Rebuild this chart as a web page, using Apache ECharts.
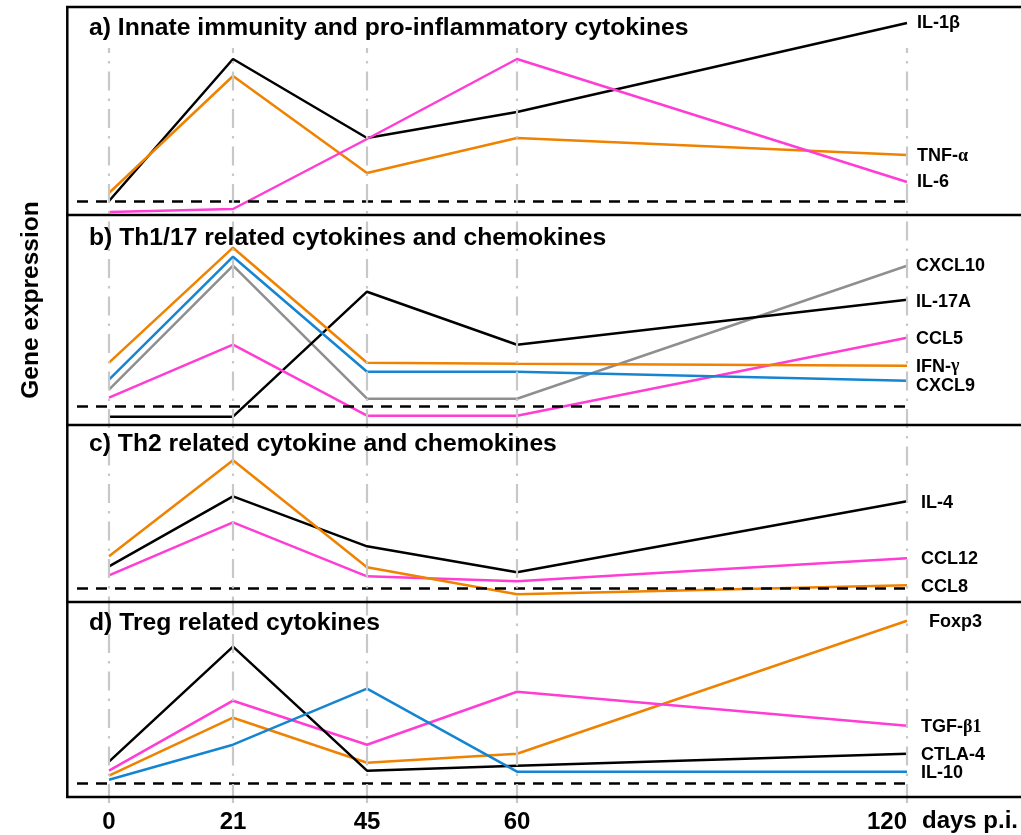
<!DOCTYPE html>
<html>
<head>
<meta charset="utf-8">
<script src="https://cdn.jsdelivr.net/npm/echarts@6/dist/echarts.min.js"></script>
<style>
html,body{margin:0;padding:0;background:#fff;}
#chart{width:1021px;height:835px;}
</style>
</head>
<body>
<div id="chart"></div>
<script>
// ---- data ----
const days = ['0', '21', '45', '60', '120'];
const panelTitles = [
  'a) Innate immunity and pro-inflammatory cytokines',
  'b) Th1/17 related cytokines and chemokines',
  'c) Th2 related cytokine and chemokines',
  'd) Treg related cytokines'
];
// panel a
const aIL1b = [0, 14.2, 6.3, 8.9, 17.8];
const aTNFa = [0.8, 12.5, 2.8, 6.3, 4.6];
const aIL6  = [-1.1, -0.8, 6.2, 14.2, 1.9];
// panel b
const bCXCL10 = [1.7, 14.1, 0.8, 0.8, 14.1];
const bIL17A  = [-1.0, -1.0, 11.5, 6.2, 10.7];
const bCCL5   = [0.9, 6.2, -0.9, -0.9, 6.9];
const bIFNg   = [4.4, 15.9, 4.4, 4.3, 4.1];
const bCXCL9  = [2.7, 15.0, 3.5, 3.5, 2.6];
// panel c
const cIL4   = [2.2, 9.2, 4.2, 1.6, 8.7];
const cCCL12 = [1.3, 6.6, 1.2, 0.7, 3.0];
const cCCL8  = [3.2, 12.8, 2.1, -0.6, 0.3];
// panel d
const dFoxp3  = [0.8, 6.6, 2.1, 3.0, 16.3];
const dTGFb1  = [1.3, 8.3, 3.9, 9.2, 5.8];
const dCTLA4  = [2.2, 13.7, 1.3, 1.8, 3.0];
const dIL10   = [0.4, 3.9, 9.5, 1.2, 1.2];

// ---- layout (not data) ----
const dayPlacement = [0, 124, 258, 408, 798]; // horizontal slots of the time points
const xMin = -32, xMax = 804, gridLeft = 77, gridWidth = 836;
const panelTop = [7, 215, 425, 602];
const panelBottom = [215, 425, 602, 797];
const baselineY = [201, 406.7, 588.3, 783.7];
const pxPerUnit = 10;

const C = { black: '#000000', orange: '#ef8200', pink: '#ff3dd4', blue: '#1585d2', gray: '#8f8f8f' };

const seriesDefs = [
  // panel, name(rich), values, color, dx, dy
  [0, 'IL-1β', aIL1b, C.black, 0, 0],
  [0, 'TNF-{g|α}', aTNFa, C.orange, 0, 1.5],
  [0, 'IL-6', aIL6, C.pink, 0, 0],
  [1, 'CXCL10', bCXCL10, C.gray, -1, 0.5],
  [1, 'IL-17A', bIL17A, C.black, -1, 2],
  [1, 'CCL5', bCCL5, C.pink, -1, 1],
  [1, 'IFN-{g|γ}', bIFNg, C.orange, -1, 1],
  [1, 'CXCL9', bCXCL9, C.blue, -1, 5.5],
  [2, 'IL-4', cIL4, C.black, 4, 1.5],
  [2, 'CCL12', cCCL12, C.pink, 4, 1],
  [2, 'CCL8', cCCL8, C.orange, 4, 1.5],
  [3, 'Foxp3', dFoxp3, C.orange, 12, 1.5],
  [3, 'TGF-{g|β1}', dTGFb1, C.pink, 4, 1.5],
  [3, 'CTLA-4', dCTLA4, C.black, 4, 1.5],
  [3, 'IL-10', dIL10, C.blue, 4, 1.5]
];

const grids = [], xAxes = [], yAxes = [], series = [];
for (let p = 0; p < 4; p++) {
  grids.push({ left: gridLeft, width: gridWidth, top: panelTop[p], height: panelBottom[p] - panelTop[p] });
  xAxes.push({
    type: 'value', gridIndex: p, min: xMin, max: xMax,
    axisLine: { show: false }, axisTick: { show: false }, splitLine: { show: false },
    axisLabel: p === 3 ? {
      show: true, customValues: dayPlacement, margin: 13,
      fontSize: 24, fontWeight: 'bold', color: '#000', fontFamily: 'Liberation Sans, Arial, sans-serif',
      alignMaxLabel: 'right',
      formatter: v => days[dayPlacement.indexOf(v)]
    } : { show: false }
  });
  yAxes.push({
    type: 'value', gridIndex: p,
    min: -(panelBottom[p] - baselineY[p]) / pxPerUnit,
    max: (baselineY[p] - panelTop[p]) / pxPerUnit,
    show: false, splitLine: { show: false }
  });
  // dashed baseline
  series.push({
    type: 'line', xAxisIndex: p, yAxisIndex: p, data: [], silent: true, z: 2,
    markLine: {
      symbol: 'none', silent: true, label: { show: false },
      lineStyle: { color: '#000', width: 2.5, type: [11, 8] },
      data: [{ yAxis: 0 }]
    }
  });
}
// full-height grid for vertical guide lines
grids.push({ left: gridLeft, width: gridWidth, top: 48, height: 755 });
xAxes.push({ type: 'value', gridIndex: 4, min: xMin, max: xMax, show: false });
yAxes.push({ type: 'value', gridIndex: 4, min: 0, max: 1, show: false });
series.push({
  type: 'line', xAxisIndex: 4, yAxisIndex: 4, data: [], silent: true, z: 1,
  markLine: {
    symbol: 'none', silent: true, label: { show: false },
    lineStyle: { color: '#c8c8c8', width: 2.2, type: [19, 8, 2.5, 8] },
    data: dayPlacement.map(x => ({ xAxis: x }))
  }
});

seriesDefs.forEach(([p, name, vals, color, dx, dy]) => {
  series.push({
    type: 'line', xAxisIndex: p, yAxisIndex: p, name: name,
    data: dayPlacement.map((x, i) => [x, vals[i]]),
    symbol: 'none', smooth: false, z: 3,
    lineStyle: { color: color, width: 2.5 },
    itemStyle: { color: color },
    endLabel: {
      show: true, formatter: name, distance: 10, offset: [dx, dy],
      fontSize: 18, fontWeight: 'bold', color: '#000',
      fontFamily: 'Liberation Sans, Arial, sans-serif',
      rich: { g: { fontSize: 18, fontWeight: 'bold', color: '#000', fontFamily: 'Liberation Serif, Times New Roman, serif' } }
    },
    emphasis: { disabled: true }
  });
});

const titleTopOffset = [9, 10.7, 7, 8.7];
const titles = panelTitles.map((t, p) => ({
  text: t, left: 89, top: panelTop[p] + titleTopOffset[p], padding: 0,
  textStyle: { fontSize: 24.7, fontWeight: 'bold', color: '#000', fontFamily: 'Liberation Sans, Arial, sans-serif' }
}));

const frameLines = [];
const lineY = [7, 215, 425, 602, 797];
lineY.forEach(y => frameLines.push({ type: 'line', shape: { x1: 66, y1: y, x2: 1021, y2: y }, style: { stroke: '#000', lineWidth: 2.5 }, z: 10 }));
frameLines.push({ type: 'line', shape: { x1: 67.3, y1: 6, x2: 67.3, y2: 798 }, style: { stroke: '#000', lineWidth: 2.5 }, z: 10 });
frameLines.push({
  type: 'text', x: 922, y: 821, z: 10,
  style: { text: 'days p.i.', fontSize: 24, fontWeight: 'bold', fill: '#000', fontFamily: 'Liberation Sans, Arial, sans-serif', verticalAlign: 'middle', align: 'left' }
});
frameLines.push({
  type: 'text', x: 31, y: 300, rotation: Math.PI / 2, z: 10,
  style: { text: 'Gene expression', fontSize: 24.5, fontWeight: 'bold', fill: '#000', fontFamily: 'Liberation Sans, Arial, sans-serif', verticalAlign: 'middle', align: 'center' }
});

const chart = echarts.init(document.getElementById('chart'), null, { renderer: 'canvas' });
chart.setOption({
  animation: false,
  backgroundColor: '#fff',
  title: titles,
  grid: grids,
  xAxis: xAxes,
  yAxis: yAxes,
  series: series,
  graphic: frameLines
});
</script>
</body>
</html>
